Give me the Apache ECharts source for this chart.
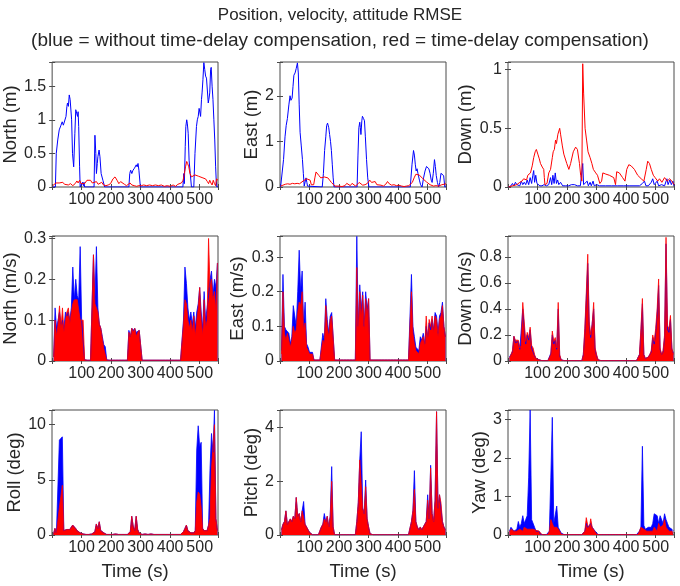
<!DOCTYPE html>
<html><head><meta charset="utf-8">
<script src="https://cdn.jsdelivr.net/npm/echarts@6/dist/echarts.min.js"></script>
<style>html,body{margin:0;padding:0;background:#fff}#c{width:680px;height:586px}</style>
</head><body><div id="c"></div>
<script>
// ---------- Position RMSE: [time s, value] ----------
const NP_blue = [[2,0],[11,0],[14,0.5],[19,0.7],[24,0.85],[30,0.92],[34,0.97],[38,0.92],[42,0.9],[47,1.05],[50,1.2],[52,1.25],[55,1.2],[58,1.37],[61,1.3],[66,1.0],[69,0.5],[73,0.3],[77,0.8],[80,1.15],[83,1.1],[86,1.05],[88,1.12],[90,0.9],[93,0.3],[95,0],[101,0],[103,0.07],[106,0.02],[108,0.07],[110,0],[142,0],[145,0.77],[148,0.5],[150,0.2],[153,0.35],[155,0.45],[159,0.55],[162,0.45],[166,0.2],[172,0.1],[178,0],[260,0],[263,0.2],[266,0.25],[270,0.2],[274,0.25],[279,0.28],[285,0.33],[288,0.3],[291,0.35],[294,0.25],[299,0],[443,0],[446,0.2],[448,0.05],[451,0.6],[453,0.9],[456,1.0],[458,0.95],[461,0.8],[464,0.4],[468,0.2],[472,0],[480,0],[484,0.5],[489,0.9],[492,1.0],[495,1.05],[498,1.17],[501,1.1],[503,1.05],[506,1.3],[508,1.4],[511,1.6],[514,1.85],[517,1.75],[520,1.65],[523,1.62],[526,1.6],[529,1.25],[531,1.3],[534,1.4],[537,1.75],[539,1.78],[542,1.5],[545,1.3],[548,1.0],[551,0.7],[554,0.3],[556,0.1],[558,0],[562,0]];
const NP_red = [[2,0.02],[8,0.02],[13,0.06],[18,0.08],[24,0.06],[30,0.05],[36,0.07],[42,0.04],[48,0.06],[55,0.03],[62,0.05],[70,0.02],[78,0.05],[84,0.09],[88,0.06],[93,0.1],[98,0.05],[104,0.03],[110,0.05],[118,0.1],[124,0.12],[130,0.1],[136,0.06],[142,0.05],[150,0.08],[156,0.04],[162,0.03],[168,0.07],[174,0.03],[182,0.02],[190,0.03],[198,0.05],[206,0.12],[213,0.15],[220,0.1],[226,0.05],[232,0.08],[238,0.1],[245,0.04],[252,0.02],[258,0.04],[264,0.06],[270,0.03],[278,0.02],[286,0.01],[294,0.02],[302,0.02],[310,0.03],[320,0.02],[330,0.03],[340,0.02],[350,0.03],[360,0.02],[370,0.03],[380,0.01],[390,0.02],[400,0.01],[410,0.03],[418,0.01],[426,0.04],[432,0.03],[438,0.06],[444,0.1],[448,0.2],[452,0.3],[456,0.38],[459,0.35],[463,0.3],[467,0.2],[472,0.15],[478,0.15],[484,0.18],[490,0.17],[496,0.16],[502,0.16],[508,0.14],[514,0.13],[520,0.12],[526,0.08],[530,0.05],[534,0.1],[538,0.06],[542,0.03],[546,0.1],[550,0.05],[554,0.02],[557,0.12],[562,0.1]];
const EP_blue = [[2,0],[8,0.02],[12,0.6],[17,1.1],[21,1.35],[25,1.5],[30,1.8],[34,2.0],[37,1.9],[41,1.95],[44,2.2],[47,2.45],[51,2.5],[55,2.6],[59,2.72],[62,2.5],[65,1.8],[68,1.2],[72,0.9],[76,0.6],[79,0.3],[82,0.02],[85,0],[88,0.2],[91,0.1],[93,0.02],[97,0],[143,0],[147,0.3],[151,0.8],[155,1.1],[158,1.35],[161,1.4],[165,1.3],[168,1.15],[171,1.0],[174,0.8],[177,0.5],[180,0.2],[183,0],[261,0],[264,0.7],[267,1.3],[270,1.42],[272,1.3],[274,1.15],[277,1.45],[279,1.55],[283,1.5],[286,1.45],[289,1.1],[293,0.6],[297,0.2],[301,0],[441,0],[447,0.5],[452,0.8],[455,0.7],[458,0.5],[461,0.35],[464,0.4],[467,0.3],[472,0.15],[476,0.05],[481,0],[486,0.2],[491,0.35],[496,0.45],[500,0.48],[504,0.4],[508,0.3],[512,0.15],[515,0.1],[519,0.3],[523,0.6],[526,0.45],[529,0.25],[533,0.1],[537,0],[541,0.1],[545,0.3],[550,0.3],[554,0.25],[558,0],[562,0]];
const EP_red = [[2,0.02],[10,0.04],[18,0.06],[26,0.07],[34,0.06],[42,0.08],[50,0.07],[58,0.08],[66,0.07],[72,0.1],[78,0.13],[84,0.15],[90,0.18],[96,0.17],[102,0.15],[106,0.05],[110,0.02],[114,0.05],[118,0.2],[122,0.33],[126,0.32],[132,0.25],[138,0.2],[144,0.2],[150,0.22],[156,0.25],[162,0.2],[168,0.15],[174,0.1],[180,0.06],[186,0.02],[192,0.01],[200,0.02],[210,0.01],[220,0.03],[226,0.08],[232,0.05],[238,0.03],[244,0.08],[250,0.04],[256,0.02],[262,0.06],[268,0.1],[274,0.06],[280,0.04],[288,0.05],[296,0.08],[304,0.15],[310,0.1],[316,0.06],[322,0.12],[328,0.05],[334,0.03],[342,0.04],[350,0.02],[358,0.06],[364,0.12],[370,0.07],[378,0.04],[386,0.05],[394,0.03],[402,0.04],[412,0.02],[420,0.01],[428,0.02],[436,0.03],[442,0.05],[448,0.1],[454,0.2],[460,0.28],[466,0.32],[472,0.26],[478,0.22],[484,0.18],[490,0.14],[496,0.11],[502,0.08],[508,0.05],[514,0.03],[520,0.02],[528,0.03],[536,0.02],[542,0.04],[548,0.05],[554,0.06],[562,0.07]];
const DP_blue = [[2,0],[10,0.01],[15,0.03],[20,0.01],[25,0.04],[30,0.02],[35,0.03],[40,0.01],[45,0.05],[50,0.02],[55,0.04],[60,0.02],[65,0.06],[70,0.02],[75,0.08],[80,0.03],[84,0.1],[87,0.14],[90,0.04],[94,0.1],[98,0.03],[102,0.02],[108,0.01],[115,0.01],[122,0.02],[130,0.01],[138,0.02],[144,0.08],[148,0.02],[152,0.1],[156,0.03],[160,0.12],[164,0.03],[168,0.06],[172,0.02],[178,0.04],[185,0.01],[195,0.01],[205,0.01],[215,0.02],[225,0.02],[235,0.01],[245,0.01],[251,0.02],[253,0.2],[256,0.02],[262,0.02],[268,0.05],[272,0.01],[278,0.04],[282,0.01],[288,0.05],[292,0.01],[300,0.02],[310,0.01],[330,0.01],[350,0.01],[370,0.01],[390,0.01],[410,0.01],[430,0.01],[445,0.01],[455,0.03],[462,0.05],[467,0.01],[475,0.01],[485,0.04],[490,0.07],[495,0.02],[500,0.03],[505,0.05],[510,0.01],[520,0.02],[530,0.01],[538,0.07],[542,0.02],[548,0.06],[553,0.02],[558,0.05],[562,0.01]];
const DP_red = [[2,0],[15,0.01],[30,0.02],[40,0.04],[47,0.05],[53,0.07],[59,0.08],[63,0.06],[67,0.1],[72,0.09],[76,0.12],[82,0.18],[87,0.25],[92,0.3],[96,0.32],[101,0.28],[106,0.24],[110,0.2],[116,0.17],[121,0.15],[123,0.08],[125,0.02],[132,0.03],[138,0.12],[144,0.15],[150,0.25],[153,0.3],[157,0.32],[161,0.4],[164,0.37],[169,0.45],[175,0.5],[178,0.45],[184,0.35],[189,0.28],[199,0.2],[206,0.15],[212,0.2],[221,0.3],[229,0.34],[235,0.32],[242,0.2],[246,0.1],[250,0.05],[253,1.05],[256,0.8],[261,0.5],[266,0.4],[271,0.3],[278,0.25],[284,0.2],[289,0.15],[297,0.12],[303,0.1],[311,0.03],[317,0.05],[321,0.12],[331,0.11],[343,0.1],[358,0.08],[364,0.02],[368,0.13],[377,0.12],[388,0.08],[396,0.05],[402,0.15],[409,0.19],[417,0.18],[428,0.15],[439,0.1],[451,0.07],[460,0.05],[468,0.15],[473,0.22],[479,0.2],[485,0.15],[492,0.1],[498,0.08],[507,0.05],[513,0.07],[521,0.04],[530,0.08],[539,0.05],[547,0.07],[555,0.05],[562,0.02]];

// ---------- Velocity / attitude RMSE sampled every 5 s ----------
const T = [5,10,15,20,25,30,35,40,45,50,55,60,65,70,75,80,85,90,95,100,105,110,115,120,125,130,135,140,145,150,155,160,165,170,175,180,185,190,195,200,205,210,215,220,225,230,235,240,245,250,255,260,265,270,275,280,285,290,295,300,305,310,315,320,325,330,335,340,345,350,355,360,365,370,375,380,385,390,395,400,405,410,415,420,425,430,435,440,445,450,455,460,465,470,475,480,485,490,495,500,505,510,515,520,525,530,535,540,545,550,555,560];
const NV_blue = [
0.01,0.13,0.08,0.10,0.12,0.09,0.10,0.08,0.12,0.11,
0.12,0.10,0.13,0.23,0.15,0.20,0.16,0.15,0.28,0.10,
0.10,0.003,0.002,0.002,0.002,0.002,0.002,0.26,0.15,0.28,
0.13,0.09,0.08,0.06,0.04,0.035,0.003,0.002,0.002,0.002,
0.002,0.002,0.002,0.002,0.002,0.002,0.002,0.002,0.002,0.002,
0.002,0.075,0.06,0.08,0.075,0.08,0.07,0.07,0.075,0.075,
0.002,0.002,0.002,0.002,0.002,0.002,0.002,0.002,0.002,0.002,
0.002,0.002,0.002,0.002,0.002,0.002,0.002,0.002,0.002,0.002,
0.002,0.002,0.002,0.002,0.002,0.002,0.002,0.002,0.10,0.23,
0.19,0.13,0.10,0.12,0.09,0.12,0.08,0.12,0.14,0.18,
0.12,0.08,0.17,0.10,0.13,0.16,0.20,0.22,0.16,0.20,
0.18,0.24];
const NV_red = [
0.01,0.10,0.06,0.09,0.135,0.08,0.13,0.07,0.10,0.12,
0.13,0.09,0.12,0.14,0.15,0.15,0.15,0.15,0.10,0.10,
0.10,0.003,0.002,0.002,0.002,0.002,0.002,0.26,0.14,0.14,
0.12,0.09,0.08,0.055,0.03,0.03,0.002,0.002,0.002,0.002,
0.002,0.002,0.002,0.002,0.002,0.002,0.002,0.002,0.002,0.002,
0.002,0.07,0.06,0.08,0.07,0.08,0.06,0.07,0.075,0.075,
0.002,0.002,0.002,0.002,0.002,0.002,0.002,0.002,0.002,0.002,
0.002,0.002,0.002,0.002,0.002,0.002,0.002,0.002,0.002,0.002,
0.002,0.002,0.002,0.002,0.002,0.002,0.002,0.002,0.09,0.15,
0.14,0.10,0.08,0.10,0.07,0.11,0.06,0.10,0.13,0.18,
0.10,0.06,0.15,0.08,0.10,0.30,0.18,0.20,0.15,0.17,
0.12,0.24];
const EV_blue = [
0.03,0.25,0.10,0.09,0.09,0.08,0.05,0.07,0.16,0.16,
0.10,0.20,0.32,0.20,0.26,0.10,0.17,0.05,0.04,0.025,
0.025,0.025,0.003,0.003,0.003,0.003,0.003,0.003,0.08,0.06,
0.18,0.12,0.08,0.13,0.14,0.14,0.003,0.003,0.003,0.003,
0.003,0.003,0.003,0.003,0.003,0.003,0.003,0.003,0.003,0.003,
0.003,0.36,0.10,0.22,0.15,0.20,0.10,0.20,0.15,0.18,
0.003,0.003,0.003,0.003,0.003,0.003,0.003,0.003,0.003,0.003,
0.003,0.003,0.003,0.003,0.003,0.003,0.003,0.003,0.003,0.003,
0.003,0.003,0.003,0.003,0.003,0.003,0.003,0.003,0.25,0.10,
0.07,0.04,0.04,0.03,0.07,0.06,0.08,0.05,0.10,0.07,
0.11,0.09,0.12,0.09,0.14,0.13,0.08,0.13,0.14,0.17,
0.10,0.07];
const EV_red = [
0.02,0.20,0.08,0.06,0.08,0.06,0.04,0.06,0.10,0.08,
0.09,0.14,0.17,0.16,0.20,0.09,0.11,0.04,0.03,0.02,
0.02,0.02,0.003,0.003,0.003,0.003,0.003,0.003,0.06,0.05,
0.16,0.10,0.07,0.12,0.13,0.13,0.003,0.003,0.003,0.003,
0.003,0.003,0.003,0.003,0.003,0.003,0.003,0.003,0.003,0.003,
0.003,0.27,0.08,0.20,0.12,0.19,0.09,0.18,0.13,0.18,
0.003,0.003,0.003,0.003,0.003,0.003,0.003,0.003,0.003,0.003,
0.003,0.003,0.003,0.003,0.003,0.003,0.003,0.003,0.003,0.003,
0.003,0.003,0.003,0.003,0.003,0.003,0.003,0.003,0.20,0.08,
0.05,0.03,0.03,0.02,0.05,0.05,0.07,0.04,0.13,0.06,
0.12,0.10,0.13,0.08,0.13,0.12,0.07,0.12,0.13,0.16,
0.10,0.07];
const DV_blue = [
0.03,0.04,0.07,0.19,0.14,0.13,0.15,0.09,0.10,0.40,
0.26,0.13,0.20,0.16,0.24,0.10,0.09,0.04,0.02,0.02,
0.01,0.01,0.003,0.003,0.003,0.003,0.003,0.003,0.06,0.20,
0.13,0.16,0.09,0.40,0.04,0.01,0.003,0.003,0.003,0.003,
0.003,0.003,0.003,0.003,0.003,0.003,0.003,0.003,0.003,0.003,
0.05,0.22,0.48,0.75,0.28,0.18,0.29,0.40,0.09,0.04,
0.01,0.003,0.003,0.003,0.003,0.003,0.003,0.003,0.003,0.003,
0.003,0.003,0.003,0.003,0.003,0.003,0.003,0.003,0.003,0.003,
0.003,0.003,0.003,0.003,0.003,0.003,0.003,0.003,0.05,0.22,
0.44,0.05,0.02,0.02,0.03,0.05,0.07,0.18,0.13,0.22,
0.36,0.58,0.09,0.05,0.07,0.18,0.90,0.24,0.22,0.32,
0.09,0.06];
const DV_red = [
0.02,0.05,0.08,0.19,0.16,0.15,0.16,0.10,0.12,0.45,
0.30,0.15,0.22,0.18,0.26,0.12,0.10,0.05,0.02,0.02,
0.01,0.01,0.003,0.003,0.003,0.003,0.003,0.003,0.05,0.23,
0.15,0.18,0.10,0.45,0.05,0.01,0.003,0.003,0.003,0.003,
0.003,0.003,0.003,0.003,0.003,0.003,0.003,0.003,0.003,0.003,
0.05,0.25,0.52,0.82,0.30,0.20,0.28,0.45,0.10,0.05,
0.01,0.003,0.003,0.003,0.003,0.003,0.003,0.003,0.003,0.003,
0.003,0.003,0.003,0.003,0.003,0.003,0.003,0.003,0.003,0.003,
0.003,0.003,0.003,0.003,0.003,0.003,0.003,0.003,0.05,0.25,
0.48,0.05,0.02,0.02,0.03,0.05,0.08,0.20,0.15,0.25,
0.40,0.63,0.10,0.05,0.08,0.20,0.95,0.27,0.25,0.35,
0.10,0.05];
const ROLL_blue = [
0.1,0.6,0.2,0.3,8.6,8.5,8.9,0.4,0.4,0.5,
0.5,0.5,0.6,0.9,1.0,0.6,0.4,0.3,0.2,0.3,
0.1,0.1,0.05,0.05,0.05,0.05,0.1,0.2,0.3,1.0,
0.6,1.2,0.4,0.3,0.2,0.1,0.05,0.05,0.05,0.05,
0.05,0.05,0.1,0.05,0.05,0.05,0.05,0.05,0.05,0.05,
0.05,0.1,0.3,1.7,0.8,0.4,1.7,0.5,0.2,0.1,
0.05,0.05,0.1,0.05,0.05,0.05,0.1,0.05,0.05,0.1,
0.05,0.05,0.05,0.05,0.05,0.05,0.05,0.05,0.05,0.05,
0.05,0.05,0.05,0.1,0.05,0.1,0.05,0.1,0.3,0.6,
0.9,0.4,0.3,0.2,0.2,0.2,0.4,7.7,9.9,8.0,
8.4,0.6,0.4,0.5,0.4,0.9,6.0,9.2,7.5,11.3,
1.5,0.4];
const ROLL_red = [
0.1,0.6,0.2,0.3,2.5,3.5,4.5,0.4,0.4,0.5,
0.5,0.5,0.6,0.9,1.0,0.6,0.4,0.3,0.2,0.3,
0.1,0.1,0.05,0.05,0.05,0.05,0.1,0.2,0.3,1.0,
0.6,1.2,0.4,0.3,0.2,0.1,0.05,0.05,0.05,0.05,
0.05,0.05,0.1,0.05,0.05,0.05,0.05,0.05,0.05,0.05,
0.05,0.1,0.3,1.7,0.8,0.4,1.7,0.5,0.2,0.1,
0.05,0.05,0.1,0.05,0.05,0.05,0.1,0.05,0.05,0.1,
0.05,0.05,0.05,0.05,0.05,0.05,0.05,0.05,0.05,0.05,
0.05,0.05,0.05,0.1,0.05,0.1,0.05,0.1,0.3,0.6,
0.9,0.4,0.3,0.2,0.2,0.2,0.4,3.0,3.9,3.7,
2.5,0.6,0.4,0.5,0.4,0.9,1.5,6.0,8.0,10.0,
1.5,0.4];
const PITCH_blue = [
0.2,0.4,0.5,0.9,0.4,0.5,0.6,0.5,0.7,0.6,
1.4,0.7,0.8,0.5,0.9,1.25,0.4,0.3,0.2,0.1,
0.05,0.01,0.01,0.01,0.01,0.01,0.01,0.3,0.4,0.8,
0.5,0.7,0.3,0.7,2.55,0.3,0.01,0.01,0.01,0.01,
0.01,0.01,0.01,0.01,0.01,0.01,0.01,0.01,0.01,0.01,
0.01,0.5,1.2,2.8,3.85,1.0,0.8,2.05,0.6,0.3,
0.05,0.01,0.01,0.01,0.01,0.01,0.01,0.01,0.01,0.01,
0.01,0.01,0.01,0.01,0.01,0.01,0.01,0.01,0.01,0.01,
0.01,0.01,0.01,0.01,0.01,0.01,0.01,0.01,0.5,0.9,
2.4,0.5,0.3,0.2,0.3,0.2,0.3,0.3,0.5,1.5,
0.6,2.6,0.8,0.5,1.3,4.6,1.0,1.5,1.5,0.5,
0.3,0.2];
const PITCH_red = [
0.2,0.4,0.5,0.9,0.4,0.5,0.6,0.5,0.7,0.6,
1.4,0.7,0.8,0.5,0.9,0.95,0.4,0.3,0.2,0.1,
0.05,0.01,0.01,0.01,0.01,0.01,0.01,0.3,0.4,0.6,
0.5,0.7,0.3,0.7,2.0,0.3,0.01,0.01,0.01,0.01,
0.01,0.01,0.01,0.01,0.01,0.01,0.01,0.01,0.01,0.01,
0.01,0.5,1.2,2.8,2.8,1.0,0.8,1.8,0.6,0.3,
0.05,0.01,0.01,0.01,0.01,0.01,0.01,0.01,0.01,0.01,
0.01,0.01,0.01,0.01,0.01,0.01,0.01,0.01,0.01,0.01,
0.01,0.01,0.01,0.01,0.01,0.01,0.01,0.01,0.5,0.9,
1.7,0.5,0.3,0.2,0.3,0.2,0.3,0.3,0.5,1.3,
0.6,2.5,0.8,0.5,1.3,4.6,1.0,1.5,1.2,0.5,
0.3,0.2];
const YAW_blue = [
0.1,0.2,0.15,0.1,0.12,0.15,0.35,0.2,0.3,0.5,
0.3,0.4,0.5,1.5,3.24,0.4,0.4,0.2,0.1,0.1,
0.1,0.02,0.01,0.01,0.01,0.01,0.01,0.1,1.5,3.05,
0.3,0.25,0.75,0.2,0.15,0.05,0.01,0.01,0.01,0.01,
0.01,0.01,0.01,0.01,0.01,0.01,0.01,0.01,0.01,0.01,
0.01,0.1,0.3,0.2,0.15,0.3,0.2,0.15,0.1,0.05,
0.01,0.01,0.01,0.01,0.01,0.01,0.01,0.01,0.01,0.01,
0.01,0.01,0.01,0.01,0.01,0.01,0.01,0.01,0.01,0.01,
0.01,0.01,0.01,0.01,0.01,0.01,0.01,0.01,0.1,0.2,
2.3,0.25,0.15,0.1,0.2,0.15,0.2,0.3,0.55,0.6,
0.5,0.3,0.5,0.45,0.3,0.55,0.4,0.3,0.2,0.2,
0.15,0.1];
const YAW_red = [
0.08,0.15,0.1,0.1,0.1,0.1,0.1,0.15,0.1,0.1,
0.2,0.15,0.15,0.15,0.15,0.1,0.15,0.1,0.12,0.1,
0.1,0.05,0.01,0.01,0.01,0.01,0.01,0.1,0.4,0.3,
0.2,0.15,0.2,0.15,0.1,0.02,0.01,0.01,0.01,0.01,
0.01,0.01,0.01,0.01,0.01,0.01,0.01,0.01,0.01,0.01,
0.01,0.1,0.45,0.25,0.15,0.42,0.2,0.15,0.08,0.02,
0.01,0.01,0.01,0.01,0.01,0.01,0.01,0.01,0.01,0.01,
0.01,0.01,0.01,0.01,0.01,0.01,0.01,0.01,0.01,0.01,
0.01,0.01,0.01,0.01,0.01,0.01,0.01,0.01,0.1,0.2,
0.25,0.15,0.1,0.1,0.15,0.1,0.15,0.1,0.2,0.15,
0.1,0.3,0.2,0.15,0.25,0.4,0.2,0.15,0.1,0.15,
0.1,0.05];

const X_TICKS = [100,200,300,400,500];
const TITLE1 = 'Position, velocity, attitude RMSE';
const TITLE2 = '(blue = without time-delay compensation, red = time-delay compensation)';
const X_NAME = 'Time (s)';

const panels = [
  {name:'North (m)',   max:1.86,  iv:0.5, gap:31, b:NP_blue, r:NP_red, area:false},
  {name:'East (m)',    max:2.74,  iv:1,   gap:17, b:EP_blue, r:EP_red, area:false},
  {name:'Down (m)',    max:1.065, iv:0.5, gap:29, b:DP_blue, r:DP_red, area:false},
  {name:'North (m/s)', max:0.306, iv:0.1, gap:30, b:NV_blue, r:NV_red, area:true},
  {name:'East (m/s)',  max:0.361, iv:0.1, gap:30, b:EV_blue, r:EV_red, area:true},
  {name:'Down (m/s)',  max:0.96,  iv:0.2, gap:31, b:DV_blue, r:DV_red, area:true},
  {name:'Roll (deg)',  max:11.33, iv:5,   gap:27, b:ROLL_blue, r:ROLL_red, area:true},
  {name:'Pitch (deg)', max:4.66,  iv:2,   gap:16, b:PITCH_blue, r:PITCH_red, area:true},
  {name:'Yaw (deg)',   max:3.24,  iv:1,   gap:18, b:YAW_blue, r:YAW_red, area:true}
];

const FONT = 'Liberation Sans, Arial, Helvetica, sans-serif';
const TXT = '#262626';
const cols = [52, 280, 508], rows = [62, 236, 410], W = 166, H = 125;
const grid = [], xAxis = [], yAxis = [], series = [];
const onTick = (v, iv) => { const k = v / iv; return Math.abs(k - Math.round(k)) < 1e-6; };

panels.forEach((p, i) => {
  const c = i % 3, r = Math.floor(i / 3);
  grid.push({left: cols[c], top: rows[r], width: W, height: H, show: true, borderColor: '#4a4a4a', borderWidth: 1, backgroundColor: '#fff'});
  const tick = {inside: true, length: 3, lineStyle: {color: '#4a4a4a', width: 1}};
  xAxis.push({type: 'value', gridIndex: i, min: 0, max: 562, interval: 100,
    axisLine: {show: false}, axisTick: tick, splitLine: {show: false},
    axisLabel: {fontSize: 16, color: TXT, fontFamily: FONT, margin: 5,
      formatter: v => (X_TICKS.indexOf(Math.round(v)) >= 0 && Math.abs(v - Math.round(v)) < 1e-6) ? String(Math.round(v)) : ''},
    name: r === 2 ? X_NAME : '', nameLocation: 'middle', nameGap: 27,
    nameTextStyle: {fontSize: 18.5, color: TXT, fontFamily: FONT}});
  xAxis.push({type: 'value', gridIndex: i, position: 'top', min: 0, max: 562, interval: 100,
    axisLine: {show: false}, axisTick: tick, splitLine: {show: false}, axisLabel: {show: false}});
  yAxis.push({type: 'value', gridIndex: i, min: 0, max: p.max, interval: p.iv,
    axisLine: {show: false}, axisTick: tick, splitLine: {show: false},
    axisLabel: {fontSize: 16, color: TXT, fontFamily: FONT, margin: 6,
      formatter: v => onTick(v, p.iv) ? String(parseFloat(v.toFixed(3))) : ''},
    name: p.name, nameLocation: 'middle', nameGap: p.gap,
    nameTextStyle: {fontSize: 18.5, color: TXT, fontFamily: FONT}});
  yAxis.push({type: 'value', gridIndex: i, position: 'right', min: 0, max: p.max, interval: p.iv,
    axisLine: {show: false}, axisTick: tick, splitLine: {show: false}, axisLabel: {show: false}});
  const toData = arr => p.area ? T.map((t, k) => [t, arr[k]]) : arr;
  [['#0000ff', p.b], ['#ff0000', p.r]].forEach(([col, arr]) => {
    const s = {type: 'line', xAxisIndex: 2 * i, yAxisIndex: 2 * i, data: toData(arr),
      symbol: 'none', showSymbol: false, silent: true, animation: false, clip: true,
      lineStyle: {color: col, width: p.area ? 0.8 : 1}};
    if (p.area) s.areaStyle = {color: col, opacity: 1};
    series.push(s);
  });
});

const chart = echarts.init(document.getElementById('c'), null, {renderer: 'canvas'});
chart.setOption({
  animation: false,
  backgroundColor: '#fff',
  title: [
    {text: TITLE1, left: 'center', top: 2, textStyle: {fontSize: 17, fontWeight: 'normal', color: TXT, fontFamily: FONT}},
    {text: TITLE2, left: 'center', top: 26, textStyle: {fontSize: 19, fontWeight: 'normal', color: TXT, fontFamily: FONT}}
  ],
  grid, xAxis, yAxis, series
});
</script>
</body></html>
